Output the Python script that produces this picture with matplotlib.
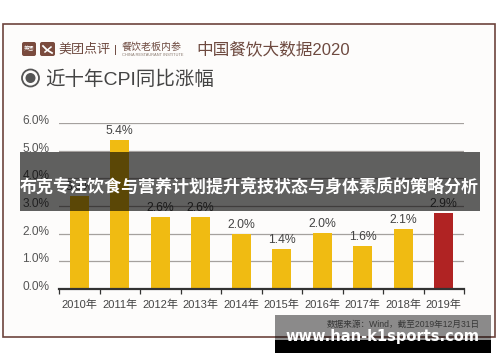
import matplotlib
matplotlib.use('Agg')
import matplotlib.pyplot as plt
from matplotlib.patches import Rectangle, FancyBboxPatch, Circle
from matplotlib.transforms import ScaledTranslation

plt.rcParams['font.family'] = ['Liberation Sans', 'Noto Sans CJK SC']

# Data
years = ['2010年', '2011年', '2012年', '2013年', '2014年', '2015年', '2016年', '2017年', '2018年', '2019年']
bar_heights = [3.35, 5.4, 2.6, 2.6, 2.0, 1.43, 2.02, 1.57, 2.17, 2.75]
bar_labels = ['3.3%', '5.4%', '2.6%', '2.6%', '2.0%', '1.4%', '2.0%', '1.6%', '2.1%', '2.9%']
bar_colors = ['#f0bb12'] * 9 + ['#b02323']
y_ticks = [0, 1, 2, 3, 4, 5, 6]
y_tick_labels = ['0.0%', '1.0%', '2.0%', '3.0%', '4.0%', '5.0%', '6.0%']

W, H = 500, 362
fig = plt.figure(figsize=(W / 100, H / 100), dpi=100, facecolor='white')

# Page layer in pixel coordinates
page = fig.add_axes([0, 0, 1, 1], zorder=0)
page.set_xlim(0, W)
page.set_ylim(H, 0)
page.axis('off')
page.add_patch(Rectangle((2.5, 24), 492, 313, facecolor='#fdfcfb', edgecolor='#6d443d', lw=1.2))

# Header
page.add_patch(FancyBboxPatch((22, 42), 14, 14, boxstyle='round,pad=0,rounding_size=2', fc='#7a4b3e', ec='none'))
page.add_patch(FancyBboxPatch((40, 42), 15, 14, boxstyle='round,pad=0,rounding_size=2', fc='#7a4b3e', ec='none'))
page.text(29, 49, '美团', fontsize=3.8, color='white', ha='center', va='center')
page.plot([43, 47, 52], [46, 50, 53], color='white', lw=1.3)
page.plot([45, 51], [52, 47], color='white', lw=1.1)
page.text(58, 49, '美团点评', fontsize=9.4, color='#6e4a40', va='center')
page.plot([115, 115], [45, 54], color='#6e4a40', lw=0.7)
page.text(122, 46.5, '餐饮老板内参', fontsize=7.2, color='#6e4a40', va='center')
page.text(122, 54.5, 'CHINA RESTAURANT INSTITUTE', fontsize=2.9, color='#8a7a70', va='center')
page.text(196, 49, '中国餐饮大数据2020', fontsize=12, color='#6e4a40', va='center')
page.add_patch(Circle((30.5, 78), 8.5, fc='none', ec='#555555', lw=1.3))
page.add_patch(Circle((30.5, 78), 5, fc='#555555', ec='none'))
page.text(45, 79.5, '近十年CPI同比涨幅', fontsize=14, color='#444444', va='center')

# Chart
ax = fig.add_axes([59 / W, (H - 289) / H, 405 / W, 166 / H], zorder=1)
ax.patch.set_alpha(0)
x_pos = [i + 0.5 for i in range(len(years))]
ax.bar(x_pos, bar_heights, width=0.48, color=bar_colors, zorder=3)
for x, h, lab in zip(x_pos, bar_heights, bar_labels):
    ax.annotate(lab, (x, h), xytext=(0, 2.2), textcoords='offset points', ha='center', va='bottom',
                fontsize=8.8, color='#444444', zorder=4)

ax.set_xlim(0, 10)
ax.set_ylim(0, 6)
ax.set_yticks(y_ticks)
ax.set_yticklabels(y_tick_labels, fontsize=8.6, color='#555555')
ax.set_xticks(range(11))
ax.set_xticklabels([])
ax.set_xticks(x_pos, minor=True)
ax.set_xticklabels(years, minor=True, fontsize=8, color='#444444')
ax.tick_params(axis='x', which='major', length=3.5, width=0.9, color='#333333')
ax.tick_params(axis='x', which='minor', length=0, pad=7.5)
ax.tick_params(axis='y', length=0, pad=7)
# y labels sit a little above their gridlines in the original
shift = ScaledTranslation(0, 3.5 / 100, fig.dpi_scale_trans)
for lab in ax.get_yticklabels():
    lab.set_transform(lab.get_transform() + shift)
ax.grid(axis='y', color='#a5a19e', lw=0.9, zorder=1)
ax.set_axisbelow(True)
for s in ['top', 'left', 'right']:
    ax.spines[s].set_visible(False)
ax.spines['bottom'].set_linewidth(1.6)
ax.spines['bottom'].set_color('#333333')
ax.spines['bottom'].set_zorder(5)

page.text(480, 324, '数据来源：Wind，截至2019年12月31日', fontsize=6.2, color='#666666', ha='right', va='center')

# Overlays on top of everything
over = fig.add_axes([0, 0, 1, 1], zorder=2)
over.set_xlim(0, W)
over.set_ylim(H, 0)
over.axis('off')
over.add_patch(Rectangle((20, 152), 460, 59, facecolor='black', alpha=0.62, lw=0))
over.text(249, 186, '布克专注饮食与营养计划提升竞技状态与身体素质的策略分析', fontsize=12.25,
          fontweight='bold', color='white', ha='center', va='center')
over.add_patch(Rectangle((275, 315), 216, 25, facecolor='black', alpha=0.45, lw=0))
over.add_patch(Rectangle((275, 340), 216, 13, facecolor='black', lw=0))
over.text(382.5, 337, 'www.han-k1sports.com', fontsize=10.5, fontweight='bold', color='white',
          ha='center', va='center', family='DejaVu Sans')

fig.savefig('out.png', dpi=100)
